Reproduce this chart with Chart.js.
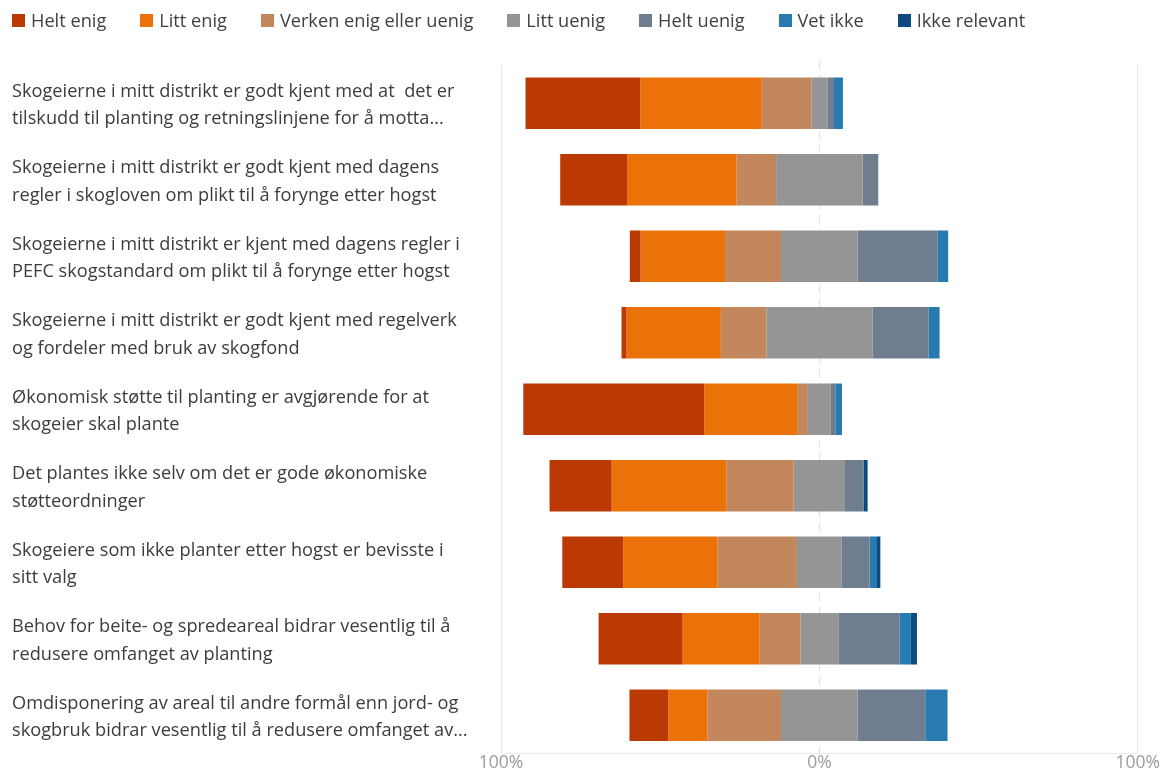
<!DOCTYPE html>
<html lang="no">
<head>
<meta charset="utf-8">
<title>Skogeiere og planting</title>
<script src="https://cdn.jsdelivr.net/npm/chart.js@4.4.1/dist/chart.umd.min.js"></script>
<style>
  html, body { margin: 0; background: #fff; }
  #wrap { position: relative; width: 1161px; height: 773px; }
  #legend { position: absolute; left: 12px; top: 8px; display: flex; gap: 34px; font: 18.2px "Open Sans", sans-serif; color: #404040; white-space: nowrap; }
  #legend span { display: flex; align-items: center; gap: 6px; }
  #legend i { width: 13px; height: 13px; display: inline-block; }
</style>
</head>
<body>
<div id="wrap">
  <div id="legend"></div>
  <canvas id="chart"></canvas>
</div>
<script>
const QUESTIONS = [
  ["Skogeierne i mitt distrikt er godt kjent med at  det er", "tilskudd til planting og retningslinjene for å motta..."],
  ["Skogeierne i mitt distrikt er godt kjent med dagens", "regler i skogloven om plikt til å forynge etter hogst"],
  ["Skogeierne i mitt distrikt er kjent med dagens regler i", "PEFC skogstandard om plikt til å forynge etter hogst"],
  ["Skogeierne i mitt distrikt er godt kjent med regelverk", "og fordeler med bruk av skogfond"],
  ["Økonomisk støtte til planting er avgjørende for at", "skogeier skal plante"],
  ["Det plantes ikke selv om det er gode økonomiske", "støtteordninger"],
  ["Skogeiere som ikke planter etter hogst er bevisste i", "sitt valg"],
  ["Behov for beite- og spredeareal bidrar vesentlig til å", "redusere omfanget av planting"],
  ["Omdisponering av areal til andre formål enn jord- og", "skogbruk bidrar vesentlig til å redusere omfanget av..."],
];
const RESPONSES = ["Helt enig", "Litt enig", "Verken enig eller uenig", "Litt uenig", "Helt uenig", "Vet ikke", "Ikke relevant"];
const COLORS = ["#bb3a03", "#ea7209", "#c2875d", "#959595", "#6f7e8e", "#2a7ab2", "#0b4a80"];

// share of answers in percent, one array per answer
const heltEnig     = [36.1, 21.0,  3.4,  1.6, 56.8, 19.5, 19.2, 26.4, 12.2];
const littEnig     = [38.1, 34.4, 26.5, 29.6, 29.2, 36.0, 29.6, 24.2, 12.3];
const verken       = [15.6, 12.4, 17.6, 14.3,  3.4, 21.2, 24.9, 12.8, 23.1];
const littUenig    = [ 5.0, 27.2, 24.1, 33.3,  7.2, 16.1, 14.1, 11.9, 24.1];
const heltUenig    = [ 2.1,  4.9, 25.0, 17.6,  1.4,  5.8,  8.7, 19.2, 21.2];
const vetIkke      = [ 2.8,  0,    3.4,  3.5,  2.1,  0,    2.1,  3.6,  7.0];
const ikkeRelevant = [ 0,    0,    0,    0,    0,    1.3,  1.3,  1.9,  0];
const X_TICKS = [-100, 0, 100];

const SERIES = [heltEnig, littEnig, verken, littUenig, heltUenig, vetIkke, ikkeRelevant];

// the bars are centred on the middle of "Litt uenig"
const starts = QUESTIONS.map((_, i) => -(heltEnig[i] + littEnig[i] + verken[i] + littUenig[i] / 2));

const datasets = SERIES.map((values, s) => ({
  label: RESPONSES[s],
  data: values.map((value, i) => {
    const from = starts[i] + SERIES.slice(0, s).reduce((sum, series) => sum + series[i], 0);
    return [from, from + value];
  }),
  backgroundColor: COLORS[s],
  borderWidth: 0,
  grouped: false,
  barPercentage: 0.676,
  categoryPercentage: 1,
}));

document.getElementById("legend").innerHTML = RESPONSES
  .map((name, i) => `<span><i style="background:${COLORS[i]}"></i>${name}</span>`)
  .join("");

const zeroLine = {
  id: "zeroLine",
  beforeDatasetsDraw(chart) {
    const { ctx, chartArea, scales } = chart;
    const x = Math.round(scales.x.getPixelForValue(0)) + 0.5;
    ctx.save();
    ctx.strokeStyle = "#dedede";
    ctx.lineWidth = 1;
    ctx.setLineDash([8, 6]);
    ctx.beginPath();
    ctx.moveTo(x, chartArea.top - 4);
    ctx.lineTo(x, chartArea.bottom);
    ctx.stroke();
    ctx.restore();
  },
};

new Chart(document.getElementById("chart"), {
  type: "bar",
  data: { labels: QUESTIONS, datasets },
  plugins: [zeroLine],
  options: {
    indexAxis: "y",
    responsive: true,
    maintainAspectRatio: false,
    animation: false,
    layout: { padding: { top: 65, right: 6, bottom: 0, left: 12 } },
    plugins: { legend: { display: false }, tooltip: { enabled: false } },
    scales: {
      x: {
        type: "linear",
        min: -100,
        max: 100,
        afterBuildTicks: (scale) => { scale.ticks = X_TICKS.map((value) => ({ value })); },
        grid: {
          drawTicks: false,
          color: (ctx) => (ctx.tick && ctx.tick.value === 0 ? "rgba(0,0,0,0)" : "#e6e6e6"),
        },
        border: { display: true, color: "#ececec" },
        ticks: {
          padding: 1,
          color: "#9c9c9c",
          font: { family: "Open Sans", size: 17.5, lineHeight: 1 },
          callback: (value) => `${Math.abs(value)}%`,
        },
      },
      y: {
        grid: { display: false, drawTicks: false },
        border: { display: false },
        afterFit: (scale) => {
          scale.width = 489;
          scale.paddingTop = 0;
          scale.paddingBottom = 0;
        },
        ticks: {
          autoSkip: false,
          crossAlign: "far",
          padding: 22,
          labelOffset: 2,
          color: "#3c3c3c",
          font: { family: "Open Sans", size: 18.2, lineHeight: 1.5 },
        },
      },
    },
  },
});
</script>
</body>
</html>
